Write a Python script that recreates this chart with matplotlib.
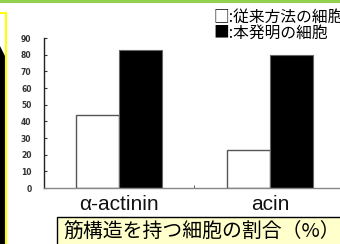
import matplotlib
matplotlib.use('Agg')
import matplotlib.pyplot as plt
from matplotlib.patches import Rectangle, Polygon
from matplotlib.lines import Line2D
import numpy as np

categories = ['α-actinin', 'acin']
conventional = [44, 23]
invention = [83, 80]
yticks = [0, 10, 20, 30, 40, 50, 60, 70, 80, 90]
legend_lines = ['□:従来方法の細胞', '■:本発明の細胞']
caption = '筋構造を持つ細胞の割合（%）'

W, H = 340, 244
fig = plt.figure(figsize=(W / 100, H / 100), dpi=100)
fig.patch.set_facecolor('white')


def fx(px):
    return px / W


def fy(py):
    return 1 - py / H


cjk = ['Noto Sans CJK JP', 'DejaVu Sans']

# top green band
fig.patches.append(Rectangle((0, fy(3)), 1, 3 / H, transform=fig.transFigure,
                             facecolor='#92D050', edgecolor='none', zorder=0))
# left decoration
fig.patches.append(Polygon([(fx(0), fy(46)), (fx(5), fy(56)), (fx(5), fy(244)), (fx(0), fy(244))],
                           closed=True, transform=fig.transFigure, facecolor='black',
                           edgecolor='none'))
fig.lines.append(Line2D([fx(0), fx(6), fx(6)], [fy(13), fy(13), fy(244)],
                        transform=fig.transFigure, color='#FFFF00', lw=1.5))

ax = fig.add_axes([fx(44), fy(188), fx(340) - fx(44), fy(38) - fy(188)])
x = np.arange(len(categories))
w = 0.285
ax.bar(x - w / 2, conventional, w, color='white', edgecolor='#555555', linewidth=1)
ax.bar(x + w / 2, invention, w, color='black', edgecolor='#666666', linewidth=0.8)
ax.set_xlim(-0.497, 1.464)
ax.set_ylim(0, 90)
for s in ['top', 'right']:
    ax.spines[s].set_visible(False)
ax.spines['left'].set_color('#222222')
ax.spines['left'].set_linewidth(1.0)
ax.spines['bottom'].set_color('#888888')
ax.spines['bottom'].set_linewidth(1.0)
ax.set_yticks(yticks)
ax.set_yticklabels([str(t) for t in yticks], fontsize=5.5, fontweight='bold',
                   color='#333333', family='DejaVu Sans')
ax.tick_params(axis='y', direction='in', length=2, width=0.8, pad=9, color='#333333')
ax.set_xticks(x)
ax.set_xticklabels(categories, fontsize=15, family='Liberation Sans', color='#111111')
ax.tick_params(axis='x', length=0, pad=5)
ax.set_xticks([0.5], minor=True)
ax.tick_params(axis='x', which='minor', direction='in', length=2.5, color='#444444')

# legend text
fig.text(fx(213), fy(17), legend_lines[0], fontsize=11.3, family=cjk, va='center', ha='left')
fig.text(fx(213), fy(33), legend_lines[1], fontsize=11.3, family=cjk, va='center', ha='left')

# caption box
fig.patches.append(Rectangle((fx(57), fy(250)), fx(350) - fx(57), fy(217) - fy(250),
                             transform=fig.transFigure, facecolor='#FFFFCC',
                             edgecolor='black', lw=1))
fig.text(fx(63), fy(231), caption, fontsize=14.3, family=cjk, va='center', ha='left')

fig.savefig('out.png', dpi=100)
